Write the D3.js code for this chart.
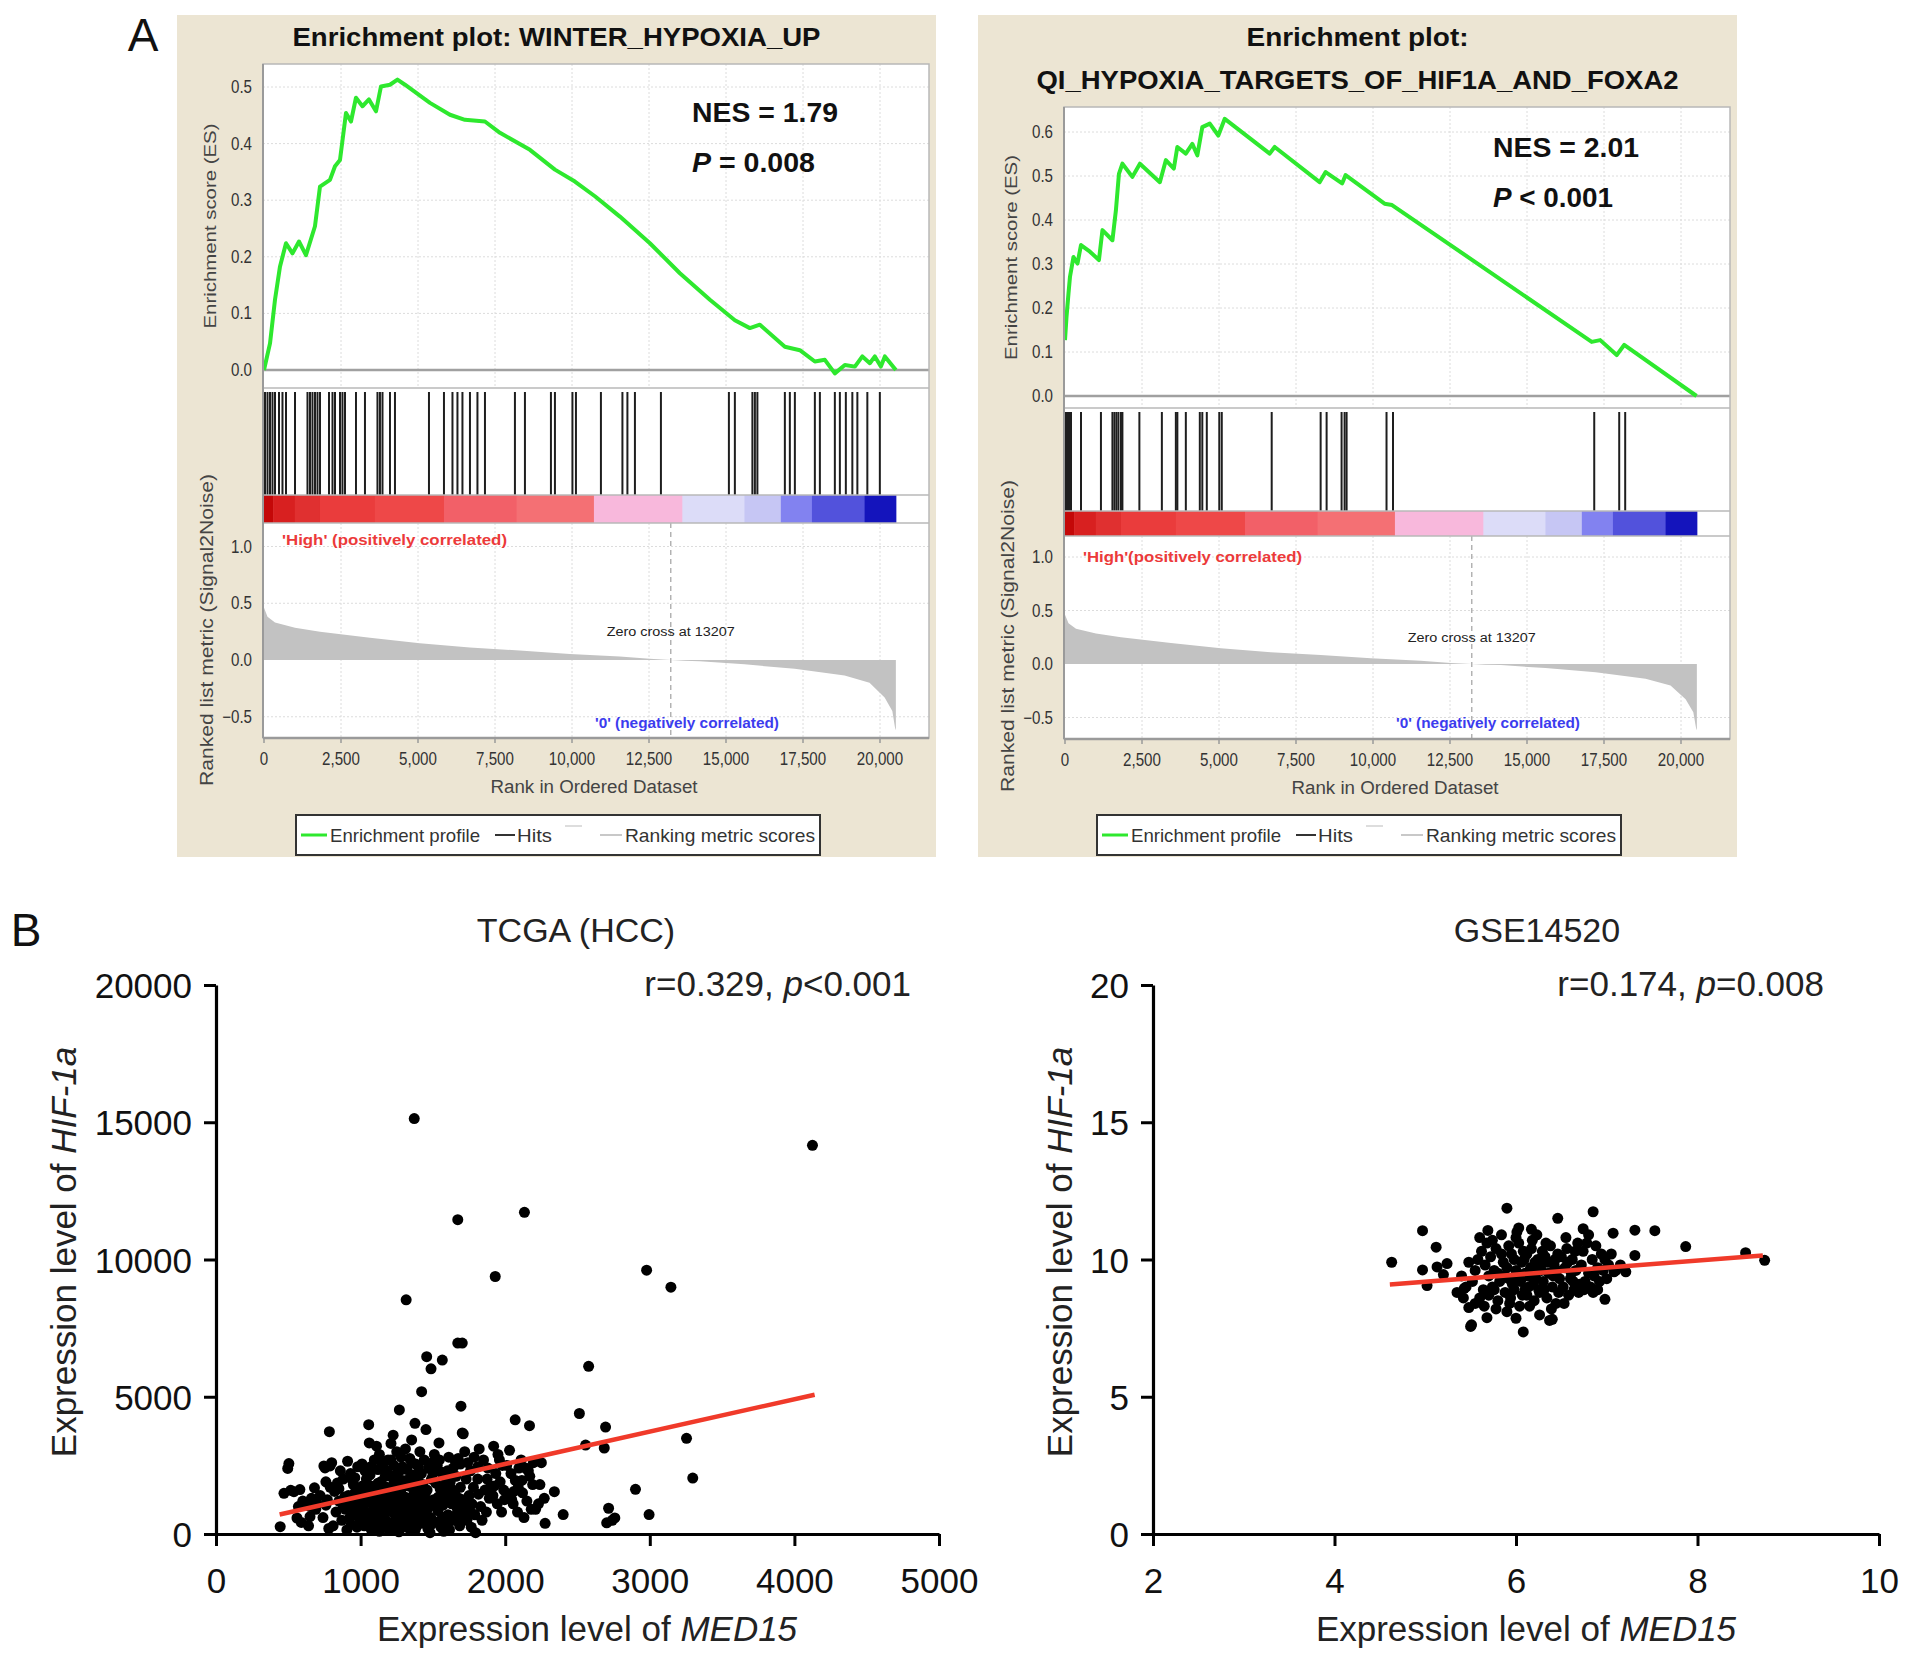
<!DOCTYPE html>
<html>
<head>
<meta charset="utf-8">
<script src="https://cdn.jsdelivr.net/npm/d3@7"></script>
<style>
  body { margin: 0; background: #fff; }
  svg { display: block; }
  .narrow { font-family: "Liberation Sans Narrow", "Liberation Sans", Arial, sans-serif; }
  .sans { font-family: "Liberation Sans", Arial, Helvetica, sans-serif; }
</style>
</head>
<body>
<svg id="fig" width="1913" height="1661"></svg>
<script>
/* ── Panel A data: GSEA ─────────────────────────────────────────── */
const RANK_TICKS   = [0, 2500, 5000, 7500, 10000, 12500, 15000, 17500, 20000];
const METRIC_TICKS = [1.0, 0.5, 0.0, -0.5];
const N_GENES      = 20515;
const ZERO_CROSS   = 13207;

const ES1_TICKS = [0, 0.1, 0.2, 0.3, 0.4, 0.5];
const ES1 = [[0,0],[195,0.047],[357,0.124],[520,0.183],[714,0.224],[925,0.206],[1136,0.227],[1363,0.203],
  [1655,0.254],[1818,0.324],[2142,0.336],[2305,0.36],[2467,0.371],[2662,0.454],[2824,0.439],[2986,0.481],
  [3197,0.466],[3408,0.478],[3636,0.457],[3798,0.501],[4090,0.504],[4333,0.513],[4577,0.504],[5388,0.472],
  [6037,0.451],[6524,0.442],[7174,0.439],[7661,0.419],[8634,0.389],[9446,0.354],[10095,0.333],[10744,0.307],
  [11556,0.271],[12530,0.224],[13503,0.171],[14477,0.124],[15288,0.088],[15775,0.074],[16100,0.08],
  [16911,0.041],[17398,0.035],[17885,0.015],[18210,0.018],[18534,-0.006],[18859,0.009],[19184,0.006],
  [19427,0.024],[19671,0.012],[19833,0.024],[20028,0.006],[20158,0.024],[20515,0]];
const HITS1 = [32,114,195,276,357,487,600,714,1006,1412,1493,1574,1655,1737,1818,2110,2224,2305,2467,2548,
  2629,2986,3278,3684,3765,3847,4090,4252,5356,5843,6119,6281,6443,6687,6930,7174,8147,8472,9316,9446,
  10014,10128,10939,11637,11799,12043,12887,15094,15288,15857,15938,16019,16911,17073,17236,17885,18048,
  18534,18697,18891,19102,19265,19589,19995];

const ES2_TICKS = [0, 0.1, 0.2, 0.3, 0.4, 0.5, 0.6];
const ES2 = [[0,0.127],[49,0.18],[113,0.233],[162,0.271],[276,0.316],[405,0.301],[519,0.343],[810,0.328],
  [1102,0.309],[1216,0.377],[1540,0.354],[1653,0.422],[1751,0.505],[1864,0.528],[2188,0.498],[2432,0.528],
  [3080,0.486],[3274,0.536],[3534,0.517],[3647,0.566],[3923,0.551],[4134,0.573],[4296,0.547],[4458,0.611],
  [4701,0.619],[4977,0.592],[5187,0.63],[6646,0.551],[6808,0.566],[8267,0.486],[8462,0.509],[8997,0.483],
  [9110,0.502],[10375,0.437],[10618,0.434],[17101,0.123],[17377,0.127],[17912,0.093],[18155,0.116],[20505,0]];
const HITS2 = [32,81,130,195,519,1167,1540,1605,1670,1735,1816,1864,2415,3145,3599,3648,3923,4377,4458,
  4604,5009,5090,6711,8300,8494,8980,9078,9143,10439,10650,17183,17994,18188];

// ranked list metric (same ordered dataset for both plots)
const METRIC = [[0,0.46],[114,0.38],[357,0.33],[1006,0.285],[1818,0.25],[3440,0.197],[5060,0.148],
  [6680,0.11],[8300,0.083],[9930,0.053],[11550,0.03],[12520,0.01],[13207,0],[13650,-0.007],[14150,-0.01],
  [15600,-0.038],[17230,-0.078],[18850,-0.137],[19660,-0.2],[20150,-0.33],[20400,-0.45],[20490,-0.6],[20515,-0.62]];

// colour bar of the ranked list
const BAR_STOPS  = [0, 300, 1000, 1818, 3600, 5843, 8200, 10712, 13584, 15600, 16780, 17790, 19500, 20515];
const BAR_COLORS = ['#c40808', '#d82020', '#e03030', '#ea3c3c', '#ee4848', '#f26068', '#f47074',
                    '#f8b8dc', '#dcdcf8', '#c6c6f4', '#8282f0', '#5252dc', '#1414bc'];

/* ── Panel B data: scatter ──────────────────────────────────────── */
const TCGA_X_TICKS = [0, 1000, 2000, 3000, 4000, 5000];
const TCGA_Y_TICKS = [0, 5000, 10000, 15000, 20000];
const TCGA_FIT = { slope: 1.18, intercept: 190, from: 440, to: 4140 };
const TCGA_POINTS = [
  [444,266],[496,2390],[504,2567],[517,1593],[539,1540],[470,1480],[560,583],[580,1620],[570,1000],[590,420],[600,1200],
  [616,1151],[650,631],[681,1682],[660,1300],[690,900],[640,300],
  [746,2478],[754,2405],[784,3729],[789,2478],[720,1400],[760,1050],[740,600],[780,200],[790,1700],[770,1250],
  [800,2599],[840,1859],[820,1550],[850,1200],[880,2000],[830,800],[870,500],[860,2300],[890,1350],[810,300],[895,900],
  [910,2650],[930,2200],[950,1800],[960,1500],[920,1200],[940,950],[970,700],[990,400],[905,150],[980,2450],[955,1100],
  [925,600],[985,1650],[945,1950],[975,250],
  [1010,2550],[1030,2300],[1056,3983],[1060,3316],[1040,2000],[1070,1750],[1020,1500],[1050,1300],[1080,1100],[1015,900],
  [1045,700],[1090,500],[1025,300],[1075,150],[1095,2700],[1005,1200],[1065,2150],[1035,1650],[1085,850],
  [1110,3200],[1130,2900],[1150,2600],[1120,2350],[1170,2100],[1140,1900],[1180,1700],[1105,1500],[1160,1400],[1125,1200],
  [1190,1050],[1145,900],[1115,700],[1175,500],[1135,300],[1195,150],[1155,2450],[1185,1300],[1165,800],[1100,1000],
  [1120,1850],[1190,2700],[1150,600],[1130,100],
  [1225,3600],[1268,4519],[1210,3300],[1250,3000],[1280,2800],[1230,2500],[1270,2300],[1215,2100],[1290,1950],[1240,1800],
  [1260,1600],[1205,1400],[1285,1250],[1235,1100],[1275,950],[1220,800],[1255,650],[1295,500],[1245,350],[1205,200],
  [1265,80],[1280,1450],[1230,1950],[1210,2700],
  [1315,8531],[1353,3426],[1376,4033],[1371,15134],[1310,3100],[1340,2750],[1380,2550],[1320,2350],[1360,2150],[1395,1950],
  [1330,1750],[1370,1550],[1305,1350],[1350,1150],[1385,950],[1325,750],[1365,550],[1300,350],[1345,150],[1390,1250],
  [1335,2000],[1375,700],[1355,2600],[1390,300],
  [1422,5186],[1457,6461],[1487,6018],[1452,3806],[1410,3000],[1440,2700],[1470,2400],[1420,2200],[1490,2000],[1430,1800],
  [1460,1600],[1405,1400],[1475,1200],[1445,1000],[1415,800],[1485,600],[1435,400],[1465,200],[1495,2600],[1425,1300],
  [1455,850],[1480,50],
  [1542,3316],[1565,6337],[1510,2900],[1530,2500],[1560,2250],[1590,2050],[1520,1850],[1550,1650],[1580,1450],[1505,1250],
  [1570,1050],[1535,850],[1595,650],[1515,450],[1555,250],[1585,1800],[1545,2700],[1575,100],
  [1672,11452],[1672,6956],[1703,6956],[1694,4655],[1703,3682],[1610,2800],[1640,2400],[1660,2100],[1620,1900],[1690,1700],
  [1650,1500],[1680,1300],[1630,1100],[1670,900],[1605,700],[1645,500],[1685,300],[1615,150],[1655,2650],[1690,2550],
  [1675,2750],[1625,1650],
  [1710,3650],[1720,3000],[1740,2600],[1760,2300],[1730,2000],[1780,1700],[1750,1400],[1770,1100],[1715,900],[1790,700],
  [1735,500],[1765,250],[1795,50],[1785,2800],[1705,1250],
  [1820,3100],[1850,2700],[1880,2400],[1810,2000],[1860,1600],[1890,1300],[1830,1000],[1870,800],[1900,1750],[1840,500],
  [1815,1450],[1875,2000],[1810,2450],
  [1931,9381],[1920,3200],[1950,2900],[1980,2500],[1935,2200],[1965,1900],[1990,1600],[1915,1400],[1945,1100],[1975,800],
  [1925,1750],[1960,2700],[1995,1250],
  [2069,4160],[2010,2500],[2040,2200],[2070,1950],[2090,1700],[2020,1400],[2055,1100],[2085,800],[2030,3050],[2060,1550],
  [2095,2400],[2045,1250],
  [2133,11717],[2168,3947],[2110,2700],[2140,2400],[2170,2100],[2190,1800],[2120,1500],[2150,1200],[2180,900],[2130,600],
  [2160,2300],[2195,2600],[2115,1950],
  [2240,1800],[2270,1300],[2210,900],[2276,389],[2250,2600],[2230,1100],
  [2340,1540],[2401,708],[2513,4390],[2556,3239],[2577,6107],[2685,3133],[2694,3894],[2702,407],[2715,938],[2758,584],
  [2901,1628],[2978,9611],[2995,708],[3146,8992],[3254,3487],[3297,2036],[4125,14160],[2740,500],
  [915,1400],[935,350],[965,1300],[995,1000],[1000,550],[1012,1750],[1028,1100],[1048,450],[1058,1550],[1078,650],
  [1088,1400],[1098,250],[1108,1250],[1118,450],[1128,1600],[1138,1050],[1148,250],[1158,1150],[1168,1550],[1178,350],
  [1188,850],[1198,1600],[1208,1000],[1218,400],[1228,1400],[1238,700],[1248,1250],[1258,200],[1268,1050],[1278,550],
  [1288,1700],[1298,850],[1308,1050],[1318,250],[1328,1300],[1338,450],[1348,1800],[1358,850],[1368,1050],[1378,150],
  [1388,1600],[1398,650],[1412,1100],[1432,650],[1448,1500],[1468,950],[1488,350],[1512,1050],[1538,1350],[1562,550],
  [1588,1200],[1612,450],[1636,1350],[1662,700],[1688,1050],[1712,600],[1738,1200],[1762,800],[960,2050],[1070,2450],
  [1180,2300],[1290,2450],[1400,2450],[1500,2200],[1600,2300],[1250,2200],[880,1000],[850,1650],[760,1900],[700,1100],[650,1000]
];

const GSE_X_TICKS = [2, 4, 6, 8, 10];
const GSE_Y_TICKS = [0, 5, 10, 15, 20];
const GSE_FIT = { slope: 0.258, intercept: 7.90, from: 4.61, to: 8.72 };
const GSE_POINTS = [
  [4.63,9.9],[4.97,11.05],[4.97,9.62],[5.02,9.05],[5.12,10.45],[5.13,9.73],[5.24,9.85],[5.2,9.45],[5.9,11.87],[6.46,11.5],
  [6.85,11.74],[7.53,11.05],[7.31,11.07],[7.07,10.96],[7.87,10.47],[7.31,10.15],[7.21,9.55],[6.98,8.55],[8.53,10.25],[8.74,9.97],
  [5.5,7.56],[6.08,7.36],[6.26,7.98],[6.37,7.78],[6.0,7.86],[5.69,11.06],[5.43,8.95],[5.48,8.25],[5.51,7.62],[5.68,7.88],
  [5.9,8.1],[6.4,7.82],[6.17,11.1],[6.03,11.15],[6.74,11.12],[7.08,9.55],
  [5.52,9.2],[5.55,9.6],[5.58,10.0],[5.6,8.6],[5.62,10.3],[5.64,8.9],[5.66,9.8],[5.68,10.6],[5.7,9.4],[5.55,8.4],[5.6,10.8],
  [5.65,8.3],[5.7,8.7],
  [5.72,10.1],[5.74,9.0],[5.76,9.6],[5.78,10.4],[5.8,8.5],[5.82,9.2],[5.84,10.9],[5.86,9.9],[5.88,8.8],[5.74,10.7],[5.78,8.2],
  [5.8,9.5],[5.84,10.2],[5.88,9.4],[5.76,8.9],
  [5.9,9.7],[5.92,10.5],[5.94,8.6],[5.96,9.1],[5.98,10.0],[6.0,10.8],[6.02,9.4],[6.04,8.3],[6.06,9.9],[6.08,10.3],[6.1,8.9],
  [5.92,9.3],[5.95,10.2],[5.98,8.9],[6.0,9.6],[6.03,10.6],[6.05,9.2],[6.07,8.7],[6.09,10.0],[5.93,8.4],[6.01,11.0],[6.1,9.5],
  [6.12,10.2],[6.14,9.0],[6.16,9.7],[6.18,10.7],[6.2,8.5],[6.22,9.3],[6.24,10.0],[6.26,8.8],[6.28,9.6],[6.13,9.4],[6.15,8.3],
  [6.17,10.4],[6.19,9.1],[6.21,9.9],[6.23,10.9],[6.25,8.9],[6.27,9.8],[6.29,10.3],[6.12,8.7],[6.2,9.6],
  [6.3,9.2],[6.32,10.1],[6.34,8.6],[6.36,9.5],[6.38,10.5],[6.4,9.0],[6.42,9.8],[6.44,8.4],[6.46,10.2],[6.48,9.3],[6.31,8.9],
  [6.35,9.9],[6.39,8.2],[6.43,10.0],[6.47,8.8],[6.33,10.6],[6.41,9.4],[6.45,9.6],[6.5,10.1],
  [6.52,9.0],[6.54,9.7],[6.56,10.4],[6.58,8.7],[6.6,9.3],[6.62,10.0],[6.64,8.9],[6.66,9.6],[6.68,10.6],[6.7,9.1],[6.53,8.4],
  [6.57,9.9],[6.61,9.5],[6.65,10.3],[6.69,8.8],[6.55,10.8],[6.63,9.2],
  [6.72,9.8],[6.74,10.3],[6.76,9.2],[6.78,10.6],[6.8,9.5],[6.82,9.0],[6.84,10.0],[6.86,9.4],[6.88,10.5],[6.9,9.7],[6.92,9.2],
  [6.94,10.2],[6.96,9.6],[6.98,10.0],[7.0,9.3],[6.75,8.9],[6.85,8.8],[7.02,9.8],[7.05,10.2],[7.1,9.6],[7.15,9.8],[6.8,10.9],
  [6.9,8.9],[5.45,9.0],[5.4,9.4],[5.35,8.8],[5.48,9.9],[5.42,8.6]
];

const svg = d3.select('#fig');
const GREEN = '#2ee82e';

// squeeze a text node horizontally so a regular face reads like a narrow one
function squeeze(sel, k) {
  sel.each(function() {
    const len = this.getComputedTextLength();
    d3.select(this).attr('textLength', len * k).attr('lengthAdjust', 'spacingAndGlyphs');
  });
}

/* ── GSEA enrichment panel ──────────────────────────────────────── */
function drawGsea(p) {
  const g = svg.append('g').attr('class', 'narrow');

  g.append('rect').attr('x', p.panelX).attr('y', 15).attr('width', 759).attr('height', 842).attr('fill', '#ece5d3');
  g.append('rect').attr('x', p.plotL).attr('y', p.esTop)
    .attr('width', p.plotR - p.plotL).attr('height', p.rankBot - p.esTop).attr('fill', '#fff');

  const x   = d3.scaleLinear().domain([0, 20000]).range([p.plotL + 1, p.plotL + 617]);
  const yEs = d3.scaleLinear().domain([0, p.esMax]).range([p.es0, p.esMaxY]);
  const yM  = d3.scaleLinear().domain([0, 1]).range([p.m0, p.m1]);

  // titles
  p.titles.forEach(t => {
    g.append('text').attr('x', p.panelX + 379.5).attr('y', t.y)
      .attr('text-anchor', 'middle').attr('font-size', 25).attr('font-weight', 'bold').attr('fill', '#111')
      .attr('textLength', t.w).attr('lengthAdjust', 'spacingAndGlyphs').text(t.text);
  });

  // grid
  const grid = g.append('g').attr('stroke', '#dcdcdc').attr('stroke-dasharray', '2,2').attr('stroke-width', 1);
  RANK_TICKS.slice(1).forEach(r => {
    grid.append('line').attr('x1', x(r)).attr('x2', x(r)).attr('y1', p.esTop).attr('y2', p.esBot);
    grid.append('line').attr('x1', x(r)).attr('x2', x(r)).attr('y1', p.barBot).attr('y2', p.rankBot);
  });
  p.esTicks.slice(1).forEach(v => {
    grid.append('line').attr('x1', p.plotL).attr('x2', p.plotR).attr('y1', yEs(v)).attr('y2', yEs(v));
  });
  METRIC_TICKS.filter(v => v !== 0).forEach(v => {
    grid.append('line').attr('x1', p.plotL).attr('x2', p.plotR).attr('y1', yM(v)).attr('y2', yM(v));
  });

  // ES zero line + curve
  g.append('line').attr('x1', p.plotL).attr('x2', p.plotR).attr('y1', yEs(0)).attr('y2', yEs(0))
    .attr('stroke', '#a0a0a0').attr('stroke-width', 2.5);
  g.append('path').datum(p.es)
    .attr('d', d3.line().x(d => x(d[0])).y(d => yEs(d[1])))
    .attr('fill', 'none').attr('stroke', GREEN).attr('stroke-width', 4).attr('stroke-linejoin', 'round');

  // hits
  g.append('g').selectAll('line').data(p.hits).join('line')
    .attr('x1', d => x(d)).attr('x2', d => x(d))
    .attr('y1', p.esBot + 4).attr('y2', p.barTop)
    .attr('stroke', '#1e1e1e').attr('stroke-width', 2);

  // colour bar
  g.append('g').selectAll('rect').data(BAR_COLORS).join('rect')
    .attr('x', (d, i) => x(BAR_STOPS[i])).attr('width', (d, i) => x(BAR_STOPS[i + 1]) - x(BAR_STOPS[i]) + 0.5)
    .attr('y', p.barTop).attr('height', p.barBot - p.barTop).attr('fill', d => d);

  // ranked list metric
  g.append('path').datum(METRIC)
    .attr('d', d3.area().x(d => x(d[0])).y0(yM(0)).y1(d => yM(d[1])))
    .attr('fill', '#c2c2c2');
  g.append('line').attr('x1', x(ZERO_CROSS)).attr('x2', x(ZERO_CROSS))
    .attr('y1', p.barBot).attr('y2', p.rankBot)
    .attr('stroke', '#a8a8a8').attr('stroke-width', 1.3).attr('stroke-dasharray', '5,4');

  // panel separators / frame
  const fr = g.append('g').attr('stroke', '#b8b8b8').attr('stroke-width', 1.5).attr('fill', 'none');
  fr.append('rect').attr('x', p.plotL).attr('y', p.esTop).attr('width', p.plotR - p.plotL).attr('height', p.rankBot - p.esTop);
  [p.esBot, p.barTop, p.barBot].forEach(yy =>
    fr.append('line').attr('x1', p.plotL).attr('x2', p.plotR).attr('y1', yy).attr('y2', yy));
  g.append('line').attr('x1', p.plotL).attr('x2', p.plotL).attr('y1', p.esTop).attr('y2', p.rankBot)
    .attr('stroke', '#9a9a9a').attr('stroke-width', 2);
  g.append('line').attr('x1', p.plotL).attr('x2', p.plotR).attr('y1', p.rankBot).attr('y2', p.rankBot)
    .attr('stroke', '#9a9a9a').attr('stroke-width', 2.5);

  // ticks
  const tk = g.append('g').attr('font-size', 18).attr('fill', '#333');
  p.esTicks.forEach(v => {
    tk.append('text').attr('x', p.plotL - 11).attr('y', yEs(v) + 6).attr('text-anchor', 'end').text(d3.format('.1f')(v));
  });
  METRIC_TICKS.forEach(v => {
    tk.append('text').attr('x', p.plotL - 11).attr('y', yM(v) + 6).attr('text-anchor', 'end').text(d3.format('.1f')(v));
  });
  RANK_TICKS.forEach(r => {
    tk.append('text').attr('x', x(r)).attr('y', p.rankBot + 27).attr('text-anchor', 'middle').text(d3.format(',')(r));
    g.append('line').attr('x1', x(r)).attr('x2', x(r)).attr('y1', p.rankBot).attr('y2', p.rankBot + 5)
      .attr('stroke', '#9a9a9a').attr('stroke-width', 1.5);
  });
  squeeze(tk.selectAll('text'), 0.84);

  // axis titles
  g.append('text').attr('transform', `translate(${p.plotL - 47},${(p.esTop + p.esBot) / 2}) rotate(-90)`)
    .attr('text-anchor', 'middle').attr('font-size', 16).attr('fill', '#444')
    .attr('textLength', 205).attr('lengthAdjust', 'spacingAndGlyphs').text('Enrichment score (ES)');
  g.append('text').attr('transform', `translate(${p.plotL - 50},${p.rankLabelY}) rotate(-90)`)
    .attr('text-anchor', 'middle').attr('font-size', 18).attr('fill', '#444')
    .attr('textLength', 312).attr('lengthAdjust', 'spacingAndGlyphs').text('Ranked list metric (Signal2Noise)');
  g.append('text').attr('x', p.plotL + 331).attr('y', p.rankBot + 55).attr('text-anchor', 'middle')
    .attr('font-size', 18).attr('fill', '#444')
    .attr('textLength', 207).attr('lengthAdjust', 'spacingAndGlyphs').text('Rank in Ordered Dataset');

  // annotations
  g.append('text').attr('x', p.plotL + 19).attr('y', p.highY + 5).attr('font-size', 14).attr('font-weight', 'bold')
    .attr('fill', '#ec3a3a').attr('textLength', p.highW).attr('lengthAdjust', 'spacingAndGlyphs').text(p.highText);
  g.append('text').attr('x', x(ZERO_CROSS)).attr('y', p.zeroY + 4).attr('text-anchor', 'middle')
    .attr('font-size', 12).attr('fill', '#222')
    .attr('textLength', 128).attr('lengthAdjust', 'spacingAndGlyphs').text('Zero cross at ' + ZERO_CROSS);
  g.append('text').attr('x', p.plotL + 332).attr('y', p.negY + 5).attr('font-size', 14).attr('font-weight', 'bold')
    .attr('fill', '#3c3cee').attr('textLength', 184).attr('lengthAdjust', 'spacingAndGlyphs')
    .text("'0' (negatively correlated)");

  // NES / P
  g.append('text').attr('x', p.plotL + 429).attr('y', p.nesY).attr('font-size', 28).attr('font-weight', 'bold')
    .attr('fill', '#111').attr('textLength', 146).attr('lengthAdjust', 'spacingAndGlyphs').text(p.nes);
  const pt = g.append('text').attr('x', p.plotL + 429).attr('y', p.pY).attr('font-size', 28).attr('font-weight', 'bold')
    .attr('fill', '#111').attr('textLength', p.pW).attr('lengthAdjust', 'spacingAndGlyphs');
  pt.append('tspan').attr('font-style', 'italic').text('P');
  pt.append('tspan').text(p.pText);

  // legend
  const lg = g.append('g').attr('transform', `translate(${p.panelX + 119},815)`);
  lg.append('rect').attr('width', 524).attr('height', 40).attr('fill', '#fff').attr('stroke', '#333').attr('stroke-width', 2);
  lg.append('line').attr('x1', 5).attr('x2', 31).attr('y1', 20).attr('y2', 20).attr('stroke', GREEN).attr('stroke-width', 3);
  lg.append('line').attr('x1', 199).attr('x2', 219).attr('y1', 20).attr('y2', 20).attr('stroke', '#333').attr('stroke-width', 2);
  lg.append('line').attr('x1', 269).attr('x2', 286).attr('y1', 11).attr('y2', 11).attr('stroke', '#dddddd').attr('stroke-width', 2);
  lg.append('line').attr('x1', 304).attr('x2', 326).attr('y1', 20).attr('y2', 20).attr('stroke', '#c8c8c8').attr('stroke-width', 2);
  const lt = lg.append('g').attr('font-size', 19).attr('fill', '#333');
  lt.append('text').attr('x', 34).attr('y', 27).attr('textLength', 150).attr('lengthAdjust', 'spacingAndGlyphs').text('Enrichment profile');
  lt.append('text').attr('x', 221).attr('y', 27).attr('textLength', 35).attr('lengthAdjust', 'spacingAndGlyphs').text('Hits');
  lt.append('text').attr('x', 329).attr('y', 27).attr('textLength', 190).attr('lengthAdjust', 'spacingAndGlyphs').text('Ranking metric scores');
}

drawGsea({
  panelX: 177, plotL: 263, plotR: 929,
  titles: [{ text: 'Enrichment plot: WINTER_HYPOXIA_UP', y: 46, w: 528 }],
  es: ES1, hits: HITS1, esTicks: ES1_TICKS, esMax: 0.5, es0: 370, esMaxY: 87,
  esTop: 64, esBot: 388, barTop: 495, barBot: 523, rankBot: 738,
  m0: 660, m1: 546.5, rankLabelY: 630,
  highText: "'High' (positively correlated)", highW: 225, highY: 540, zeroY: 632, negY: 723,
  nes: 'NES = 1.79', nesY: 122, pText: ' = 0.008', pW: 123, pY: 172
});

drawGsea({
  panelX: 978, plotL: 1064, plotR: 1730,
  titles: [{ text: 'Enrichment plot:', y: 46, w: 222 }, { text: 'QI_HYPOXIA_TARGETS_OF_HIF1A_AND_FOXA2', y: 89, w: 642 }],
  es: ES2, hits: HITS2, esTicks: ES2_TICKS, esMax: 0.6, es0: 396, esMaxY: 132,
  esTop: 107, esBot: 408, barTop: 511, barBot: 536, rankBot: 739,
  m0: 664, m1: 557, rankLabelY: 636,
  highText: "'High'(positively correlated)", highW: 219, highY: 557, zeroY: 638, negY: 723,
  nes: 'NES = 2.01', nesY: 157, pText: ' < 0.001', pW: 120, pY: 207
});

/* ── Scatter panels ─────────────────────────────────────────────── */
function drawScatter(p) {
  const g = svg.append('g').attr('class', 'sans');
  const x = d3.scaleLinear().domain(p.xDomain).range([p.x0, p.x1]);
  const y = d3.scaleLinear().domain(p.yDomain).range([1534, 985]);

  const xa = g.append('g').attr('transform', 'translate(0,1534)')
    .call(d3.axisBottom(x).tickValues(p.xTicks).tickSize(12).tickSizeOuter(0).tickPadding(22).tickFormat(d3.format('d')));
  const ya = g.append('g').attr('transform', `translate(${p.x0},0)`)
    .call(d3.axisLeft(y).tickValues(p.yTicks).tickSize(12).tickSizeOuter(0).tickPadding(12).tickFormat(d3.format('d')));
  [xa, ya].forEach(a => {
    a.select('.domain').attr('stroke', '#000').attr('stroke-width', 3.2);
    a.selectAll('.tick line').attr('stroke', '#000').attr('stroke-width', 3);
    a.selectAll('.tick text').attr('font-size', 35).attr('fill', '#111').attr('font-family', '"Liberation Sans", Arial, sans-serif');
  });
  ya.selectAll('.tick text').attr('dy', '0.36em');

  g.append('g').selectAll('circle').data(p.points).join('circle')
    .attr('cx', d => x(d[0])).attr('cy', d => y(d[1])).attr('r', 5.5).attr('fill', '#000');

  g.append('line')
    .attr('x1', x(p.fit.from)).attr('y1', y(p.fit.intercept + p.fit.slope * p.fit.from))
    .attr('x2', x(p.fit.to)).attr('y2', y(p.fit.intercept + p.fit.slope * p.fit.to))
    .attr('stroke', '#f03a2a').attr('stroke-width', 4.5);

  g.append('text').attr('x', p.titleX).attr('y', 942).attr('text-anchor', 'middle')
    .attr('font-size', 34).attr('fill', '#222').text(p.title);

  const st = g.append('text').attr('x', p.statX).attr('y', 996).attr('text-anchor', 'end')
    .attr('font-size', 35).attr('fill', '#222');
  st.append('tspan').text(p.stat[0]);
  st.append('tspan').attr('font-style', 'italic').text('p');
  st.append('tspan').text(p.stat[1]);

  const yl = g.append('text').attr('transform', `translate(${p.yLabelX},1252) rotate(-90)`)
    .attr('text-anchor', 'middle').attr('dy', '0.36em').attr('font-size', 35).attr('fill', '#222');
  yl.append('tspan').text('Expression level of ');
  yl.append('tspan').attr('font-style', 'italic').text('HIF-1a');

  const xl = g.append('text').attr('x', p.xLabelX).attr('y', 1641).attr('text-anchor', 'middle')
    .attr('font-size', 35).attr('fill', '#222');
  xl.append('tspan').text('Expression level of ');
  xl.append('tspan').attr('font-style', 'italic').text('MED15');
}

drawScatter({
  xDomain: [0, 5000], yDomain: [0, 20000], x0: 216, x1: 939,
  xTicks: TCGA_X_TICKS, yTicks: TCGA_Y_TICKS, points: TCGA_POINTS, fit: TCGA_FIT,
  title: 'TCGA (HCC)', titleX: 576, stat: ['r=0.329, ', '<0.001'], statX: 911,
  yLabelX: 63, xLabelX: 587
});

drawScatter({
  xDomain: [2, 10], yDomain: [0, 20], x0: 1153, x1: 1879,
  xTicks: GSE_X_TICKS, yTicks: GSE_Y_TICKS, points: GSE_POINTS, fit: GSE_FIT,
  title: 'GSE14520', titleX: 1537, stat: ['r=0.174, ', '=0.008'], statX: 1824,
  yLabelX: 1059, xLabelX: 1526
});

// panel letters
svg.append('text').attr('class', 'sans').attr('x', 143).attr('y', 51).attr('text-anchor', 'middle')
  .attr('font-size', 46).attr('fill', '#111').text('A');
svg.append('text').attr('class', 'sans').attr('x', 26).attr('y', 946).attr('text-anchor', 'middle')
  .attr('font-size', 46).attr('fill', '#111').text('B');
</script>
</body>
</html>
